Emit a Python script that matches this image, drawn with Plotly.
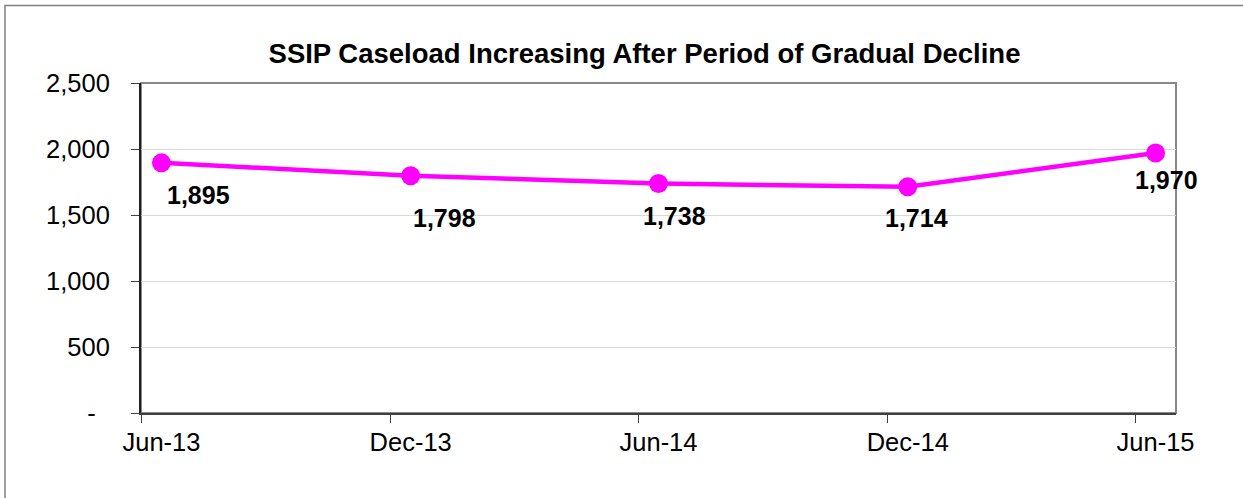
import plotly.graph_objects as go

# ---- data ----
categories = ["Jun-13", "Dec-13", "Jun-14", "Dec-14", "Jun-15"]
dates = ["2013-06-16", "2013-12-16", "2014-06-16", "2014-12-16", "2015-06-16"]
caseload = [1895, 1798, 1738, 1714, 1970]
tick_dates = ["2013-06-01", "2013-12-01", "2014-06-01", "2014-12-01", "2015-06-01"]
y_ticks = [0, 500, 1000, 1500, 2000, 2500]
y_ticktext = ["-\u00a0\u00a0", "500", "1,000", "1,500", "2,000", "2,500"]
title_text = "SSIP Caseload Increasing After Period of Gradual Decline"

# label offsets (style only, pixels)
label_dx = [37, 34, 16, 9, 11]
label_dy = [-32, -42, -32, -31, -27]

FONT = "Arial, Liberation Sans, sans-serif"
x_range = ["2013-06-01", "2015-07-01"]

fig = go.Figure()
fig.add_trace(go.Scatter(
    x=dates, y=caseload, mode="lines+markers",
    line=dict(color="#FF00FF", width=4.5),
    marker=dict(color="#FF00FF", size=19),
    hoverinfo="skip", showlegend=False, xaxis="x", yaxis="y",
))

for d, v, dx, dy in zip(dates, caseload, label_dx, label_dy):
    fig.add_annotation(x=d, y=v, xref="x", yref="y", text=f"{v:,}", showarrow=False,
                       xshift=dx, yshift=dy,
                       font=dict(family=FONT, size=25, color="#000000", weight="bold"))

fig.update_layout(
    width=1243, height=498,
    margin=dict(l=141, r=67, t=83, b=85),
    paper_bgcolor="white", plot_bgcolor="white",
    title=dict(text=f"<b>{title_text}</b>", x=644.5 / 1243, xanchor="center",
               xref="container", yref="container", y=1 - 53 / 498, yanchor="middle",
               font=dict(family=FONT, size=27.5, color="#000000")),
    xaxis=dict(type="date", range=x_range, tickvals=dates, ticktext=categories,
               ticks="", showgrid=False, zeroline=False, showline=False,
               tickfont=dict(family=FONT, size=25.5, color="#000000"),
               ticklabelstandoff=11),
    xaxis2=dict(type="date", range=x_range, overlaying="x", anchor="y", side="bottom",
                tickvals=tick_dates, showticklabels=False, ticks="outside", ticklen=8,
                tickwidth=1.3, tickcolor="#404040", showgrid=False, zeroline=False,
                showline=True, linecolor="#404040", linewidth=2),
    yaxis=dict(range=[0, 2500], tickvals=y_ticks, ticktext=y_ticktext,
               ticks="outside", ticklen=8, tickwidth=1.3, tickcolor="#404040",
               showline=True, linecolor="#202020", linewidth=2,
               showgrid=True, gridcolor="#D9D9D9", gridwidth=1, zeroline=False,
               tickfont=dict(family=FONT, size=25.5, color="#000000"),
               ticklabelstandoff=16),
    shapes=[
        dict(type="rect", xref="paper", yref="paper", x0=0, x1=1, y0=0, y1=1,
             line=dict(color="#888888", width=2), fillcolor="rgba(0,0,0,0)", layer="below"),
        dict(type="rect", xref="paper", yref="paper", x0=(5 - 141) / 1035, x1=1.2,
             y0=-0.5, y1=(413 - 5.5) / 330,
             line=dict(color="#808080", width=1.5), fillcolor="rgba(0,0,0,0)", layer="below"),
    ],
)

# invisible trace to attach the tick axis
fig.add_trace(go.Scatter(x=[x_range[0]], y=[None], xaxis="x2", yaxis="y",
                         showlegend=False, hoverinfo="skip", mode="markers"))

fig.write_html("out.html", config={"displayModeBar": False},
               post_script="document.body.style.margin='0';document.body.style.overflow='hidden';")
